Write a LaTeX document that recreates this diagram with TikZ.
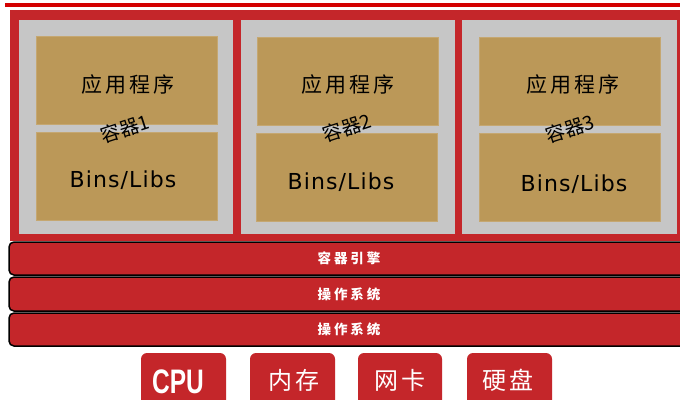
\documentclass[tikz,border=0pt]{standalone}
\usepackage{fontspec}
\newfontfamily\cjk{Noto Sans CJK SC}
\newfontfamily\cjkls[LetterSpace=22]{Noto Sans CJK SC}
\newfontfamily\cjkwide[LetterSpace=14]{Noto Sans CJK SC}
\newfontfamily\dejavu[LetterSpace=5]{DejaVu Sans}
\newfontfamily\lib{Liberation Sans}
\definecolor{dred}{HTML}{C4262A}
\definecolor{topred}{HTML}{D40000}
\definecolor{cgray}{HTML}{C6C6C6}
\definecolor{tan}{HTML}{BB9858}
\tikzset{
  graybox/.style={fill=cgray},
  tanbox/.style={fill=tan, draw=tan!85!white, line width=0.5pt},
  apptext/.style={font=\cjkwide\fontsize{21}{21}\selectfont, inner sep=0},
  libtext/.style={font=\dejavu\fontsize{22}{22}\selectfont, inner sep=0},
  ctrtext/.style={font=\cjk\fontsize{19.5}{19.5}\selectfont, inner sep=0, rotate=18},
  layerbar/.style={fill=dred, draw=black, line width=1.5pt, rounded corners=5pt},
  layertext/.style={font=\cjkls\bfseries\fontsize{13.5}{13.5}\selectfont, text=white, inner sep=0},
  hwbox/.style={fill=dred, rounded corners=6pt},
  hwtext/.style={font=\cjkwide\fontsize{24}{24}\selectfont, text=white, inner sep=0},
}
\begin{document}
\begin{tikzpicture}[x=1pt,y=-1pt]
\useasboundingbox (0,0) rectangle (680,399);
\clip (0,0) rectangle (680,399);
\fill[white] (0,0) rectangle (680,399);
% top line
\fill[topred] (5,3) rectangle (690,7);
% host red area
\fill[dred] (10,10) rectangle (690,241);
% containers
\fill[graybox] (19,20) rectangle (233,234);
\fill[graybox] (241,20) rectangle (455,234);
\fill[graybox] (462,20) rectangle (677,234);
% tan boxes
\filldraw[tanbox] (36,36) rectangle (217,124);
\filldraw[tanbox] (36,132) rectangle (217,220);
\filldraw[tanbox] (257,37) rectangle (438,125);
\filldraw[tanbox] (256,133) rectangle (437,221);
\filldraw[tanbox] (479,37) rectangle (660,125);
\filldraw[tanbox] (479,133) rectangle (660,221);
% texts
\node[apptext] (app1) at (128,85) {应用程序};
\node[apptext] (app2) at (348,85) {应用程序};
\node[apptext] (app3) at (573,85) {应用程序};
\node[libtext] (lib1) at (123,180) {Bins/Libs};
\node[libtext] (lib2) at (341,182) {Bins/Libs};
\node[libtext] (lib3) at (574,184) {Bins/Libs};
\node[ctrtext] (ctr1) at (125,129) {容器1};
\node[ctrtext] (ctr2) at (347,128) {容器2};
\node[ctrtext] (ctr3) at (570,129) {容器3};
% layers
\draw[layerbar] (9,242) rectangle (700,275);
\draw[layerbar] (9,277) rectangle (700,311);
\draw[layerbar] (9,313) rectangle (700,346);
\node[layertext] (engine) at (349,258.5) {容器引擎};
\node[layertext] (os1) at (349,294) {操作系统};
\node[layertext] (os2) at (349,329.5) {操作系统};
% hardware
\fill[hwbox] (141,353) rectangle (226,415);
\fill[hwbox] (250,353) rectangle (335,415);
\fill[hwbox] (358,353) rectangle (442,415);
\fill[hwbox] (467,353) rectangle (552,415);
\node[inner sep=0, text=white] (cpu) at (178,382) {\scalebox{0.72}[1]{\lib\bfseries\fontsize{34}{34}\selectfont CPU}};
\node[hwtext] (mem) at (294,380) {内存};
\node[hwtext] (nic) at (400,380) {网卡};
\node[hwtext] (disk) at (508,380) {硬盘};
\end{tikzpicture}
\end{document}
